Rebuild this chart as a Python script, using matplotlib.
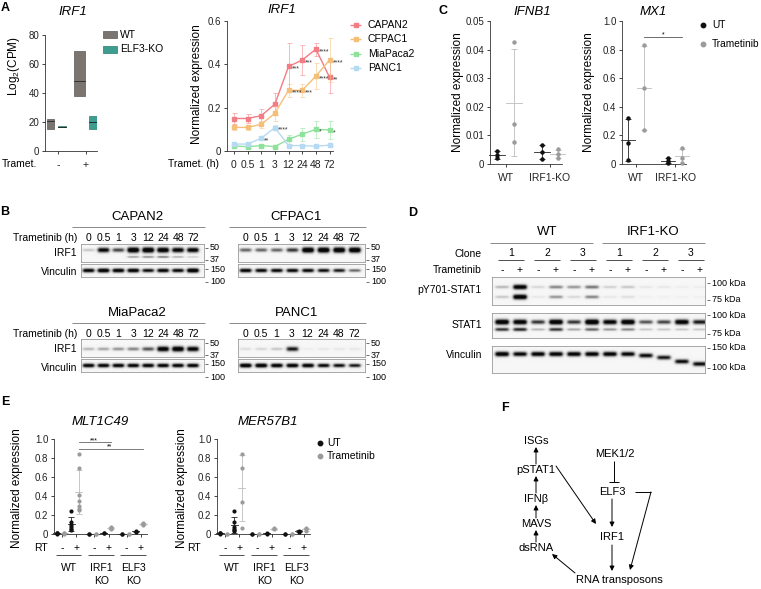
import numpy as np
import matplotlib
matplotlib.use("Agg")
import matplotlib.pyplot as plt

plt.rcParams['font.family'] = ['Liberation Sans', 'DejaVu Sans']
plt.rcParams['mathtext.default'] = 'regular'

W, H = 761, 589

# ---------------- data ----------------
# A (left): IRF1 log2(CPM) range boxes
a_groups = ['-', '+']
a_wt_lo, a_wt_hi, a_wt_med = [15, 38], [22, 69], [21, 48]
a_ko_lo, a_ko_hi, a_ko_med = [16.4, 15], [17.2, 24], [16.8, 20]

# A (right): IRF1 time course
times = ['0', '0.5', '1', '3', '12', '24', '48', '72']
cell_lines = ['CAPAN2', 'CFPAC1', 'MiaPaca2', 'PANC1']
capan2 = [0.150, 0.150, 0.163, 0.216, 0.390, 0.420, 0.470, 0.340]
capan2_err = [0.025, 0.020, 0.030, 0.050, 0.110, 0.070, 0.030, 0.070]
cfpac1 = [0.109, 0.109, 0.123, 0.174, 0.280, 0.280, 0.346, 0.420]
cfpac1_err = [0.012, 0.010, 0.015, 0.035, 0.030, 0.030, 0.060, 0.100]
miapaca2 = [0.023, 0.020, 0.025, 0.020, 0.054, 0.078, 0.100, 0.097]
miapaca2_err = [0.005, 0.005, 0.006, 0.005, 0.020, 0.030, 0.040, 0.040]
panc1 = [0.032, 0.032, 0.059, 0.108, 0.025, 0.025, 0.022, 0.027]
panc1_err = [0.004, 0.004, 0.006, 0.010, 0.004, 0.004, 0.004, 0.004]
capan2_sig = ['', '', '', '', '***', '***', '****', '**']
cfpac1_sig = ['', '', '', '', '****', '***', '****', '****']
miapaca2_sig = ['', '', '', '', '', '', '*', '*']
panc1_sig = ['', '', '**', '****', '', '', '', '']

# B: western blot band intensities (0..1), lanes = times
b_capan2_irf1 = [0.15, 0.80, 0.55, 1.0, 1.0, 0.95, 0.85, 0.85]
b_capan2_irf1_low = [0.0, 0.0, 0.0, 0.30, 0.35, 0.40, 0.25, 0.15]
b_capan2_vinc = [0.85, 0.95, 0.90, 0.90, 0.75, 0.85, 0.80, 1.0]
b_cfpac1_irf1 = [0.45, 0.45, 0.45, 0.60, 1.0, 1.0, 1.0, 1.0]
b_cfpac1_vinc = [0.85, 0.80, 0.80, 0.80, 0.80, 0.75, 0.70, 0.45]
b_mia_irf1 = [0.20, 0.25, 0.30, 0.35, 0.50, 0.90, 0.95, 0.85]
b_mia_vinc = [0.85, 0.85, 0.85, 0.85, 0.85, 0.85, 0.85, 0.85]
b_panc1_irf1 = [0.08, 0.10, 0.15, 0.70, 0.03, 0.05, 0.05, 0.05]
b_panc1_vinc = [0.95, 0.95, 0.90, 0.90, 0.90, 0.80, 0.75, 0.70]

# C: qPCR
c_groups = ['WT', 'IRF1-KO']
ifnb1_ut_wt = [0.0045, 0.0030, 0.0020]
ifnb1_tr_wt = [0.0428, 0.0140, 0.0076]
ifnb1_ut_ko = [0.0066, 0.0043, 0.0016]
ifnb1_tr_ko = [0.0051, 0.0034, 0.0022]
mx1_ut_wt = [0.32, 0.15, 0.03]
mx1_tr_wt = [0.83, 0.53, 0.24]
mx1_ut_ko = [0.04, 0.02, 0.005]
mx1_tr_ko = [0.11, 0.04, 0.01]

# D: blot intensities, 12 lanes (3 WT clones, 3 IRF1-KO clones, -/+)
d_clones = ['1', '2', '3', '1', '2', '3']
d_tram = ['-', '+'] * 6
d_pstat_up = [0.20, 0.90, 0.10, 0.35, 0.30, 0.40, 0.12, 0.15, 0.05, 0.05, 0.03, 0.03]
d_pstat_lo = [0.15, 0.95, 0.05, 0.30, 0.10, 0.35, 0.05, 0.08, 0.02, 0.02, 0.02, 0.02]
d_stat_up = [0.95, 0.90, 0.60, 0.95, 0.60, 1.0, 0.85, 0.95, 0.50, 0.55, 0.90, 0.70]
d_stat_lo = [0.60, 0.65, 0.20, 0.60, 0.25, 0.45, 0.30, 0.35, 0.15, 0.15, 0.15, 0.15]
d_vinc = [0.90, 0.80, 0.85, 0.85, 0.85, 0.85, 0.85, 0.80, 0.75, 0.70, 0.75, 0.75]
d_vinc_shift = [0, 0, 0, 0, 0, 0, 0, 0, 1.5, 3.5, 7.5, 10]

# E: transposon qPCR, per group: [UT RT-, Tram RT-, UT RT+, Tram RT+]
e_groups = ['WT', 'IRF1\nKO', 'ELF3\nKO']
mlt_wt = [[0.005, 0.01, 0.008, 0.012], [0.005, 0.008, 0.01],
          [0.245, 0.125, 0.09, 0.07, 0.05, 0.04], [0.84, 0.69, 0.41, 0.35, 0.29, 0.26, 0.25]]
mlt_irf1 = [[0.0, 0.002], [0.0, 0.003], [0.01, 0.012], [0.05, 0.06, 0.07]]
mlt_elf3 = [[0.0, 0.002], [0.0, 0.002], [0.025, 0.03], [0.10, 0.11, 0.12]]
mer_wt = [[0.005, 0.01, 0.015, 0.008], [0.0, 0.003],
          [0.245, 0.125, 0.07, 0.05, 0.04, 0.03], [0.84, 0.69, 0.34, 0.065]]
mer_irf1 = [[0.0, 0.002], [0.0, 0.002], [0.005, 0.01], [0.05, 0.065]]
mer_elf3 = [[0.0, 0.002], [0.0, 0.002], [0.02, 0.035], [0.03, 0.05, 0.065]]

# F: pathway nodes
f_left = ['ISGs', 'pSTAT1', 'IFNβ', 'MAVS', 'dsRNA']
f_right = ['MEK1/2', 'ELF3', 'IRF1', 'RNA transposons']

# ---------------- helpers ----------------
fig = plt.figure(figsize=(W / 100, H / 100), dpi=100)


def add_ax(x0, y0, x1, y1):
    ax = fig.add_axes([x0 / W, 1 - y1 / H, (x1 - x0) / W, (y1 - y0) / H])
    ax.patch.set_visible(False)
    return ax


def prism(ax):
    for s in ['top', 'right']:
        ax.spines[s].set_visible(False)
    for s in ['left', 'bottom']:
        ax.spines[s].set_linewidth(0.6)
        ax.spines[s].set_color('#333333')
    ax.tick_params(length=2.5, width=0.6, labelsize=7, pad=1.5, colors='#222222')


texts = []  # (x, y, s, kwargs) drawn on overlay


def T(x, y, s, **kw):
    kw.setdefault('ha', 'center')
    kw.setdefault('va', 'center')
    kw.setdefault('fontsize', 7)
    texts.append((x, y, s, kw))


segs = []  # (xs, ys, kwargs)


def L(xs, ys, **kw):
    kw.setdefault('color', '#333333')
    kw.setdefault('lw', 0.6)
    segs.append((xs, ys, kw))


def blot(x0, y0, x1, y1, lanes, rows, hw=5.5):
    ax = add_ax(x0, y0, x1, y1)
    nx, ny = int((x1 - x0) * 4), int((y1 - y0) * 4)
    xs = np.linspace(x0, x1, nx)
    ys = np.linspace(y0, y1, ny)
    dark = np.zeros((ny, nx))
    for yc, vals, sy, shifts in rows:
        for lx, v, dy in zip(lanes, vals, shifts):
            px = 1 / (1 + np.exp((np.abs(xs - lx) - hw) / 0.8))
            py = np.exp(-0.5 * ((ys - yc - dy) / (sy * (0.55 + 0.7 * v))) ** 2)
            dark += 1.4 * v * np.outer(py, px)
    img = 0.965 - 0.94 * np.clip(dark, 0, 1)
    ax.imshow(img, cmap='gray', vmin=0, vmax=1, extent=(x0, x1, y1, y0),
              aspect='auto', interpolation='bilinear')
    ax.set_xlim(x0, x1)
    ax.set_ylim(y1, y0)
    ax.set_xticks([])
    ax.set_yticks([])
    for s in ax.spines.values():
        s.set_color('#9a9a9a')
        s.set_linewidth(0.6)
    return ax


def dots(ax, pos, vals, color, ecolor, mw=0.45, ms=3.2):
    vals = np.asarray(vals, dtype=float)
    m, sd = vals.mean(), vals.std(ddof=1)
    ax.errorbar([pos], [m], yerr=[sd], fmt='none', ecolor=ecolor, elinewidth=0.6,
                capsize=2.5, capthick=0.6, clip_on=False, zorder=2)
    ax.plot([pos - mw, pos + mw], [m, m], color=ecolor, lw=0.6, clip_on=False, zorder=2)
    ax.plot([pos] * len(vals), vals, 'o', color=color, ms=ms, mew=0, clip_on=False, zorder=3)


UT_C, TR_C = '#111111', '#9b9b9b'

# ---------------- panel labels ----------------
for lab, x, y in [('A', 5, 8), ('B', 5, 212), ('C', 443, 11), ('D', 413, 213),
                  ('E', 5, 402), ('F', 505, 408)]:
    T(x, y, lab, fontsize=9, fontweight='bold')

# ---------------- A left ----------------
ax = add_ax(45, 35, 97, 151)
prism(ax)
gx = np.arange(len(a_groups))
wt_off, ko_off = [-0.27, -0.23], [0.14, 0.25]
wt_w, ko_w = [0.25, 0.39], [0.29, 0.29]
for i in gx:
    ax.bar(gx[i] + wt_off[i], a_wt_hi[i] - a_wt_lo[i], bottom=a_wt_lo[i], width=wt_w[i],
           color='#7b7571', edgecolor='#5d5854', lw=0.5)
    ax.plot([gx[i] + wt_off[i] - wt_w[i] / 2, gx[i] + wt_off[i] + wt_w[i] / 2],
            [a_wt_med[i]] * 2, color='#2a2a2a', lw=0.6)
    ax.bar(gx[i] + ko_off[i], a_ko_hi[i] - a_ko_lo[i], bottom=a_ko_lo[i], width=ko_w[i],
           color='#3d9e8f', edgecolor='#2c7a6e', lw=0.5)
    ax.plot([gx[i] + ko_off[i] - ko_w[i] / 2, gx[i] + ko_off[i] + ko_w[i] / 2],
            [a_ko_med[i]] * 2, color='#1e1e1e', lw=0.6)
ax.set_xlim(-0.464, 1.393)
ax.set_ylim(0, 80)
ax.set_yticks([0, 20, 40, 60, 80])
ax.set_xticks(gx)
ax.set_xticklabels(a_groups, fontsize=7.5)
ax.tick_params(axis='x', pad=4)
T(73, 12, 'IRF1', fontsize=9.5, style='italic')
T(14, 66, 'Log$_2$(CPM)', fontsize=8.5, rotation=90)
T(2, 164, 'Tramet.', ha='left', fontsize=7.5)
ov_patches = [(103, 31, 14, 7, '#7b7571', '#5d5854'), (103, 46, 14, 7, '#3d9e8f', '#2c7a6e')]
T(120, 34.5, 'WT', ha='left', fontsize=7.5)
T(120, 49.5, 'ELF3-KO', ha='left', fontsize=7.5)

# ---------------- A right ----------------
ax = add_ax(227, 21, 333, 151)
prism(ax)
tx = np.arange(len(times))
series = [(capan2, capan2_err, capan2_sig, '#f27d84'),
          (cfpac1, cfpac1_err, cfpac1_sig, '#f5bf78'),
          (miapaca2, miapaca2_err, miapaca2_sig, '#8fe29b'),
          (panc1, panc1_err, panc1_sig, '#b7daf3')]
for vals, err, sig, col in series:
    ax.errorbar(tx, vals, yerr=err, fmt='none', ecolor=col, alpha=0.6, elinewidth=0.6,
                capsize=1.8, capthick=0.6, clip_on=False)
    ax.plot(tx, vals, '-s', color=col, ms=2.6, lw=1.0, clip_on=False)
    for xi, v, s in zip(tx, vals, sig):
        if s:
            ax.text(xi + 0.22, v - 0.012, s, fontsize=5, ha='left', va='center', color='#333333')
ax.set_xlim(-0.5, 7.25)
ax.set_ylim(0, 0.6)
ax.set_yticks([0, 0.2, 0.4, 0.6])
ax.set_yticklabels(['0', '0.2', '0.4', '0.6'])
ax.set_xticks(tx)
ax.set_xticklabels(times, fontsize=7.5)
ax.tick_params(axis='x', pad=4)
T(282, 10, 'IRF1', fontsize=9.5, style='italic')
T(197, 84, 'Normalized expression', fontsize=8.5, rotation=90)
T(219, 164, 'Tramet. (h)', ha='right', fontsize=7.5)
for i, (name, (_, _, _, col)) in enumerate(zip(cell_lines, series)):
    y = 25 + i * 14.3
    L([350, 361], [y, y], color=col, lw=1.0)
    segs.append(([355.5], [y], dict(marker='s', ms=2.6, color=col, lw=0)))
    T(368, y, name, ha='left', fontsize=7.5)

# ---------------- B ----------------
b_panels = [
    ('CAPAN2', 81, 204, 217, b_capan2_irf1, b_capan2_irf1_low, b_capan2_vinc),
    ('CFPAC1', 238, 365, 217, b_cfpac1_irf1, None, b_cfpac1_vinc),
    ('MiaPaca2', 81, 204, 313, b_mia_irf1, None, b_mia_vinc),
    ('PANC1', 238, 365, 313, b_panc1_irf1, None, b_panc1_vinc),
]
zero8 = [0] * 8
for name, x0, x1, ty, irf, irf_low, vinc in b_panels:
    lanes = np.linspace(x0 + 7.5, x1 - 11, len(times))
    T((x0 + x1) / 2 - 5, ty, name, fontsize=9.5)
    L([x0 - 9, x1 + 1], [ty + 10, ty + 10], color='#777777', lw=0.6)
    if x0 < 200:
        T(77, ty + 21, 'Trametinib (h)', ha='right', fontsize=7.5)
        T(77, ty + 36, 'IRF1', ha='right', fontsize=7.5)
        T(77, ty + 55, 'Vinculin', ha='right', fontsize=7.5)
    for lx, t in zip(lanes, times):
        T(lx, ty + 21, t, fontsize=7.5)
    off = 0 if ty < 300 else -1
    if name in ('MiaPaca2', 'PANC1'):
        band_y = ty + 34 + 2
    else:
        band_y = ty + 33
    rows = [(band_y, irf, 1.5, zero8)]
    if irf_low is not None:
        rows.append((ty + 40, irf_low, 0.8, zero8))
    blot(x0, ty + 27 + off, x1, ty + 45 + off, lanes, rows)
    blot(x0, ty + 47 + off, x1, ty + 60 + off, lanes, [(ty + 53.5 + off, vinc, 1.2, zero8)])
    mx = x1 + 1
    for lab, yy in [('50', ty + 31), ('37', ty + 43), ('150', ty + 52), ('100', ty + 65)]:
        L([mx, mx + 3], [yy + off, yy + off], color='#555555', lw=0.6)
        T(mx + 5, yy + off, lab, ha='left', fontsize=6.5)

# ---------------- C ----------------
c_pos = [0, 1, 2.6, 3.5]
for (gname, data, x0, x1, ylim, yt, ytl, ylx, tx_) in [
        ('IFNB1', [ifnb1_ut_wt, ifnb1_tr_wt, ifnb1_ut_ko, ifnb1_tr_ko], 490, 562, 0.05,
         [0, 0.01, 0.02, 0.03, 0.04, 0.05], ['0', '0.01', '0.02', '0.03', '0.04', '0.05'], 458, 532),
        ('MX1', [mx1_ut_wt, mx1_tr_wt, mx1_ut_ko, mx1_tr_ko], 622, 686, 1.0,
         [0, 0.2, 0.4, 0.6, 0.8, 1.0], ['0', '0.2', '0.4', '0.6', '0.8', '1.0'], 589, 653)]:
    ax = add_ax(x0, 21, x1, 164)
    prism(ax)
    for p, vals, i in zip(c_pos, data, range(4)):
        col, ecol = (UT_C, '#222222') if i % 2 == 0 else (TR_C, '#bdbdbd')
        dots(ax, p, vals, col, ecol, mw=0.45)
    ax.set_xlim(-0.4, 3.75)
    ax.set_ylim(0, ylim)
    ax.set_yticks(yt)
    ax.set_yticklabels(ytl)
    ax.set_xticks([0.5, 3.05])
    ax.set_xticklabels(c_groups, fontsize=7.5)
    ax.tick_params(axis='x', pad=4)
    T(tx_, 12, gname, fontsize=9.5, style='italic')
    T(ylx, 92, 'Normalized expression', fontsize=8.5, rotation=90)
    if gname == 'MX1':
        ax.plot([1, 3.5], [0.89, 0.89], color='#555555', lw=0.6, clip_on=False)
        ax.text(2.25, 0.905, '*', fontsize=5, ha='center', va='center')
segs.append(([703], [25], dict(marker='o', ms=3.2, color=UT_C, lw=0)))
segs.append(([703], [44], dict(marker='o', ms=3.2, color=TR_C, lw=0)))
T(712, 25, 'UT', ha='left', fontsize=7.3)
T(712, 44, 'Trametinib', ha='left', fontsize=7.3)

# ---------------- D ----------------
d_lanes = np.linspace(502, 700, 12)
T(547, 232, 'WT', fontsize=9.5)
T(653, 232, 'IRF1-KO', fontsize=9.5)
L([490, 593], [243, 243], color='#777777')
L([602, 705], [243, 243], color='#777777')
T(482, 254, 'Clone', ha='right', fontsize=7.5)
T(482, 270, 'Trametinib', ha='right', fontsize=7.5)
for k, c in enumerate(d_clones):
    cx = (d_lanes[2 * k] + d_lanes[2 * k + 1]) / 2
    T(cx, 253, c, fontsize=7.5)
    L([cx - 13, cx + 13], [260, 260], color='#333333')
for lx, s in zip(d_lanes, d_tram):
    T(lx, 270, s, fontsize=7.5)
z12 = [0] * 12
blot(492, 277, 705, 305, d_lanes, [(287, d_pstat_up, 1.4, z12), (297, d_pstat_lo, 1.4, z12)], hw=6.5)
blot(492, 313, 705, 338, d_lanes, [(322, d_stat_up, 1.5, z12), (329.5, d_stat_lo, 1.2, z12)], hw=6.5)
blot(492, 346, 705, 373, d_lanes, [(354, d_vinc, 1.4, d_vinc_shift)], hw=6.5)
T(482, 290, 'pY701-STAT1', ha='right', fontsize=7.5)
T(482, 325, 'STAT1', ha='right', fontsize=7.5)
T(482, 355, 'Vinculin', ha='right', fontsize=7.5)
for lab, yy in [('100 kDa', 283), ('75 kDa', 300), ('100 kDa', 315), ('75 kDa', 334),
                ('150 kDa', 348), ('100 kDa', 368)]:
    L([707, 710], [yy, yy], color='#555555')
    T(712, yy, lab, ha='left', fontsize=6.5)

# ---------------- E ----------------
e_pos = [g * 4.5 + k for g in range(3) for k in range(4)]
for (gname, groups, x0, tx_, ylx, rtx) in [
        ('MLT1C49', [mlt_wt, mlt_irf1, mlt_elf3], 54, 100, 17, 41),
        ('MER57B1', [mer_wt, mer_irf1, mer_elf3], 217, 268, 182, 194)]:
    ax = add_ax(x0, 439, x0 + 93, 534)
    prism(ax)
    flat = [v for g in groups for v in g]
    for i, (p, vals) in enumerate(zip(e_pos, flat)):
        col, ecol = (UT_C, '#222222') if i % 2 == 0 else (TR_C, '#bdbdbd')
        dots(ax, p, vals, col, ecol, mw=0.5, ms=3.0)
    ax.set_xlim(-0.42, 12.55)
    ax.set_ylim(0, 1.0)
    ax.set_yticks([0, 0.2, 0.4, 0.6, 0.8, 1.0])
    ax.set_yticklabels(['0', '0.2', '0.4', '0.6', '0.8', '1.0'])
    ax.set_xticks([g * 4.5 + k for g in range(3) for k in (0.7, 2.7)])
    ax.set_xticklabels([])
    T(tx_, 422, gname, fontsize=9.5, style='italic')
    T(ylx, 488, 'Normalized expression', fontsize=8.5, rotation=90)
    T(rtx, 548, 'RT', fontsize=7.5)
    px = lambda d: x0 + (d + 0.42) * 93 / 12.97
    for g in range(3):
        T(px(g * 4.5 + 0.7), 548, '-', fontsize=7.5)
        T(px(g * 4.5 + 2.7), 548, '+', fontsize=7.5)
        L([px(g * 4.5 - 0.2), px(g * 4.5 + 3.4)], [555, 555], color='#333333')
        lab = e_groups[g].split('\n')
        T(px(g * 4.5 + 1.7), 568, lab[0], fontsize=7.5)
        if len(lab) > 1:
            T(px(g * 4.5 + 1.7), 581, lab[1], fontsize=7.5)
    if gname == 'MLT1C49':
        ax.plot([3, 7.5], [0.97, 0.97], color='#666666', lw=0.6, clip_on=False)
        ax.plot([3, 12], [0.90, 0.90], color='#666666', lw=0.6, clip_on=False)
        ax.text(5.2, 0.985, '***', fontsize=5, ha='center', va='center')
        ax.text(7.3, 0.915, '**', fontsize=5, ha='center', va='center')
segs.append(([320], [443], dict(marker='o', ms=3.2, color=UT_C, lw=0)))
segs.append(([320], [456], dict(marker='o', ms=3.2, color=TR_C, lw=0)))
T(327, 443, 'UT', ha='left', fontsize=7.5)
T(327, 456, 'Trametinib', ha='left', fontsize=7.5)

# ---------------- F ----------------
left_y = [441, 470, 499, 524, 548]
lx_ = 536
for s, y in zip(f_left, left_y):
    T(lx_, y, s, fontsize=8)
arrows = []
for i in range(len(left_y) - 1):
    arrows.append(((lx_, left_y[i + 1] - 6), (lx_, left_y[i] + 6)))
for s, (x, y) in zip(f_right, [(615, 454), (612, 492), (612, 537), (619, 580)]):
    T(x, y, s, fontsize=8)
L([614, 614], [461, 482], color='black', lw=0.7)
L([609, 619], [482, 482], color='black', lw=0.7)
L([635, 651], [492, 492], color='black', lw=0.7)
arrows += [((612, 499), (612, 527)), ((612, 545), (612, 571)), ((651, 492), (630, 570)),
           ((556, 466), (596, 524)), ((575, 573), (552, 554))]

# ---------------- overlay ----------------
ov = fig.add_axes([0, 0, 1, 1])
ov.set_xlim(0, W)
ov.set_ylim(H, 0)
ov.axis('off')
for x, y, w, h, fc, ec in ov_patches:
    ov.add_patch(plt.Rectangle((x, y), w, h, facecolor=fc, edgecolor=ec, lw=0.5))
for xs, ys, kw in segs:
    ov.plot(xs, ys, solid_capstyle='butt', **kw)
for (x0, y0), (x1, y1) in arrows:
    ov.annotate('', xy=(x1, y1), xytext=(x0, y0),
                arrowprops=dict(arrowstyle='-|>', color='black', lw=0.7,
                                mutation_scale=7, shrinkA=0, shrinkB=0))
for x, y, s, kw in texts:
    ov.text(x, y, s, **kw)

fig.savefig('out.png', dpi=100)
